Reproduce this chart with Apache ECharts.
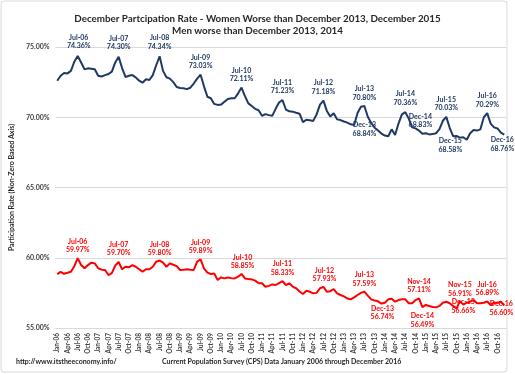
<!DOCTYPE html>
<html><head><meta charset="utf-8">
<script src="https://cdn.jsdelivr.net/npm/echarts@6/dist/echarts.min.js"></script>
<style>html,body{margin:0;padding:0;background:#fff}#c{width:515px;height:374px}</style>
</head><body><div id="c"></div>
<script>
const months = ['Jan','Feb','Mar','Apr','May','Jun','Jul','Aug','Sep','Oct','Nov','Dec'];
const years = ['06','07','08','09','10','11','12','13','14','15','16'];
const categories = [];
years.forEach(y => months.forEach(m => categories.push(m + '-' + y)));

const menValues = [
  72.60,72.95,73.15,73.12,73.30,73.95,74.36,73.90,73.41,73.48,73.45,73.41,
  72.95,72.90,73.00,73.08,73.25,73.90,74.30,73.50,72.87,72.95,73.00,72.84,
  72.60,72.46,72.70,72.65,73.00,73.70,74.34,73.30,72.85,72.75,72.50,72.15,
  72.08,72.06,72.00,72.10,72.40,72.75,73.03,72.20,71.46,71.35,70.95,70.88,
  70.90,71.10,71.30,71.35,71.35,71.70,72.11,71.50,70.99,70.80,70.60,70.50,
  70.10,70.22,70.15,70.10,70.60,71.05,71.23,70.55,70.42,70.40,70.32,70.25,
  69.65,69.82,69.78,69.74,70.20,70.90,71.18,70.45,70.05,70.28,69.85,69.80,
  69.70,69.62,69.50,69.45,70.30,70.75,70.80,70.04,69.60,69.25,69.05,68.84,
  68.70,68.65,69.14,68.74,69.55,70.20,70.36,69.90,69.28,69.21,69.05,68.83,
  68.86,68.78,68.80,68.86,69.15,69.75,70.03,69.25,68.65,68.67,68.55,68.58,
  68.40,68.86,69.09,69.05,69.14,70.00,70.29,69.55,69.28,69.20,68.90,68.76
];
const womenValues = [
  58.84,59.00,58.86,58.93,59.00,59.40,59.97,59.48,59.25,59.48,59.65,59.60,
  59.25,59.15,59.13,58.77,58.90,59.45,59.70,59.18,59.36,59.32,59.48,59.36,
  59.18,59.00,59.18,59.18,59.36,59.72,59.80,59.65,59.36,59.60,59.50,59.40,
  59.13,59.15,59.18,59.15,59.13,59.72,59.89,59.25,58.94,58.84,58.88,58.42,
  58.60,58.53,58.60,58.55,58.53,58.65,58.85,58.53,58.48,58.46,58.37,58.18,
  58.18,57.94,58.00,58.10,58.06,58.20,58.33,58.06,58.18,57.95,57.83,57.60,
  57.42,57.65,57.58,57.47,57.50,57.83,57.93,57.58,57.62,57.76,57.47,57.35,
  57.25,57.10,57.04,57.18,57.35,57.50,57.59,57.30,57.04,56.95,56.90,56.74,
  56.80,57.04,57.08,56.87,56.99,57.04,57.04,56.76,56.76,56.99,57.11,56.49,
  56.64,56.57,56.50,56.47,56.57,56.80,56.87,56.76,56.57,56.40,56.91,56.66,
  56.80,56.87,56.99,56.76,56.76,56.80,56.89,56.64,56.80,56.80,56.87,56.60
];
const yTicks = [55, 60, 65, 70, 75];

// annotated points: category -> label offset [dx, dy]
const menLabels = {
  'Jul-06':[1,-14],'Jul-07':[0,-14],'Jul-08':[0,-14],'Jul-09':[0,-13],'Jul-10':[0,-13],
  'Jul-11':[0,-13],'Jul-12':[0,-13.5],'Jul-13':[0,-13],'Jul-14':[0,-14],'Jul-15':[0,-13],
  'Jul-16':[0,-13],'Dec-13':[-17,-4.5],'Dec-14':[-2,-13],'Dec-15':[-13,8],'Dec-16':[-2,9.5]
};
const womenLabels = {
  'Jul-06':[0,-12.5],'Jul-07':[0,-13],'Jul-08':[0,-12],'Jul-09':[0,-12.5],'Jul-10':[1,-12],
  'Jul-11':[0,-13],'Jul-12':[1,-12],'Jul-13':[0,-12.5],'Dec-13':[1,9],'Nov-14':[0,-12.5],
  'Dec-14':[0,13],'Nov-15':[0,-12],'Dec-15':[0,1.5],'Jul-16':[0,-12.5],'Dec-16':[-3,2.5]
};

const FONT = 'Lato, "Open Sans", sans-serif';
function buildData(values, labels, color) {
  return values.map((v, i) => {
    const c = categories[i];
    if (labels[c]) {
      return { value: v, label: {
        show: true, position: 'inside', offset: labels[c],
        formatter: c + '\n' + v.toFixed(2) + '%',
        color: color, fontSize: 7, fontWeight: 'bold', lineHeight: 8.5,
        fontFamily: FONT, align: 'center'
      }};
    }
    return v;
  });
}

const chart = echarts.init(document.getElementById('c'), null, {renderer: 'canvas'});
chart.setOption({
  backgroundColor: '#fff',
  animation: false,
  title: {
    text: 'December Partcipation Rate - Women Worse than December 2013, December 2015\nMen worse than December 2013, 2014',
    left: 'center', top: 8,
    textStyle: { fontSize: 9.8, fontWeight: 'bold', color: '#262626', lineHeight: 12, fontFamily: FONT }
  },
  graphic: [
    { type: 'rect', shape: { x: 1, y: 1, width: 506, height: 371, r: 3 }, style: { fill: 'none', stroke: '#d9d9d9', lineWidth: 1 }, silent: true },
    { type: 'text', left: 16, top: 358, style: { text: 'http://www.itstheeconomy.info/', font: 'bold 7px ' + FONT, fill: '#262626' } },
    { type: 'text', left: 162, top: 358, style: { text: 'Current Population Survey (CPS) Data January 2006 through December 2016', font: 'bold 7px ' + FONT, fill: '#262626' } }
  ],
  grid: { left: 52, right: 9, top: 47, bottom: 46 },
  xAxis: {
    type: 'category', data: categories, boundaryGap: true,
    axisLine: { show: true, lineStyle: { color: '#d9d9d9' } },
    axisTick: { show: false },
    axisLabel: { interval: 2, rotate: 90, fontSize: 6.5, fontWeight: 'bold', color: '#404040', margin: 5, fontFamily: FONT }
  },
  yAxis: {
    type: 'value', min: yTicks[0], max: yTicks[yTicks.length - 1], interval: 5,
    name: 'Participation Rate (Non-Zero Based Axis)', nameLocation: 'middle', nameGap: 39,
    nameTextStyle: { fontSize: 7, fontWeight: 'bold', color: '#262626', fontFamily: FONT },
    axisLine: { show: false }, axisTick: { show: false },
    splitLine: { lineStyle: { color: '#d9d9d9', width: 1 } },
    axisLabel: { formatter: v => v.toFixed(2) + '%', fontSize: 7, fontWeight: 'bold', color: '#404040', margin: 6, fontFamily: FONT }
  },
  series: [
    {
      name: 'Men', type: 'line', data: buildData(menValues, menLabels, '#203864'),
      showSymbol: true, showAllSymbol: true, symbol: 'circle', symbolSize: 0,
      lineStyle: { color: '#203864', width: 2 }, itemStyle: { color: '#203864' }, z: 3
    },
    {
      name: 'Women', type: 'line', data: buildData(womenValues, womenLabels, '#ff0000'),
      showSymbol: true, showAllSymbol: true, symbol: 'circle', symbolSize: 0,
      lineStyle: { color: '#ff0000', width: 2 }, itemStyle: { color: '#ff0000' }, z: 3
    }
  ]
});
</script></body></html>
